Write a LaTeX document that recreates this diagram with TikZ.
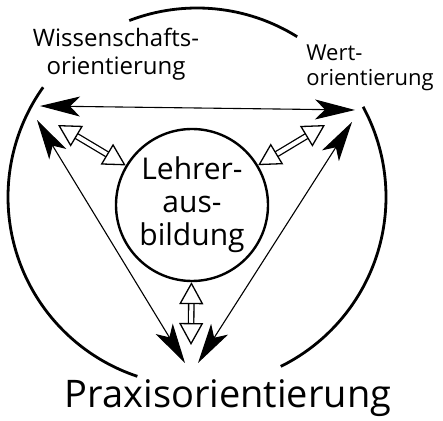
\documentclass[tikz,border=0pt]{standalone}
\usepackage{fontspec}
\setmainfont{Open Sans}
\usetikzlibrary{arrows.meta}

\begin{document}
\begin{tikzpicture}[
    x=1pt, y=1pt,
    cornertext/.style={align=center, inner sep=0pt, font=\fontsize{24}{28}\selectfont},
    hub/.style={draw, circle, line width=2.4pt, minimum size=152pt, inner sep=0pt,
        align=center, font=\fontsize{30}{33}\selectfont},
    bigarrow/.style={line width=1.1pt, <->, >={Stealth[length=40pt,width=20pt,inset=10pt]}},
    hollowarrow/.style={double, double distance=4pt, line width=1.3pt, <->,
        >={Triangle[open,length=22pt,width=24pt]}},
    ring/.style={line width=2.8pt}
]
\useasboundingbox (0,0) rectangle (443,420);

%---------------------------------
% Nodes
%---------------------------------

% Centre
\node[hub] (lehrer) at (192,215) {Lehrer-\\aus-\\bildung};

% Corners
\node[cornertext] (wiss) at (116,366) {Wissenschafts-\\orientierung};
\node[cornertext, align=left, font=\fontsize{22}{25}\selectfont] (wert) at (370,352) {Wert-\\ orientierung};
\node[cornertext, font=\fontsize{38}{42}\selectfont] (praxis) at (228,22) {Praxisorientierung};

% Arrow ends
\coordinate (ws1) at (40,314);
\coordinate (ws2) at (37,300);
\coordinate (wr1) at (355,310);
\coordinate (wr2) at (352,298);
\coordinate (pr1) at (185,57);
\coordinate (pr2) at (198,57);
\coordinate (hw)  at (58,295);
\coordinate (hr)  at (325,295);
\coordinate (hp)  at (191,75);

%---------------------------------
% Outer ring (broken by the labels)
%---------------------------------
\coordinate (o) at (197,223);
\draw[ring] (o) ++(111:189) arc (111:58:189);
\draw[ring] (o) ++(144.5:189) arc (144.5:251.6:189);
\draw[ring] (o) ++(28.5:189) arc (28.5:-63.7:189);

%---------------------------------
% Arrows
%---------------------------------

% Between the corners
\draw[bigarrow] (ws1) -- (wr1);
\draw[bigarrow] (ws2) -- (pr1);
\draw[bigarrow] (wr2) -- (pr2);

% From the centre
\draw[hollowarrow] (lehrer) -- (hw);
\draw[hollowarrow] (lehrer) -- (hr);
\draw[hollowarrow] (lehrer) -- (hp);

\end{tikzpicture}
\end{document}
